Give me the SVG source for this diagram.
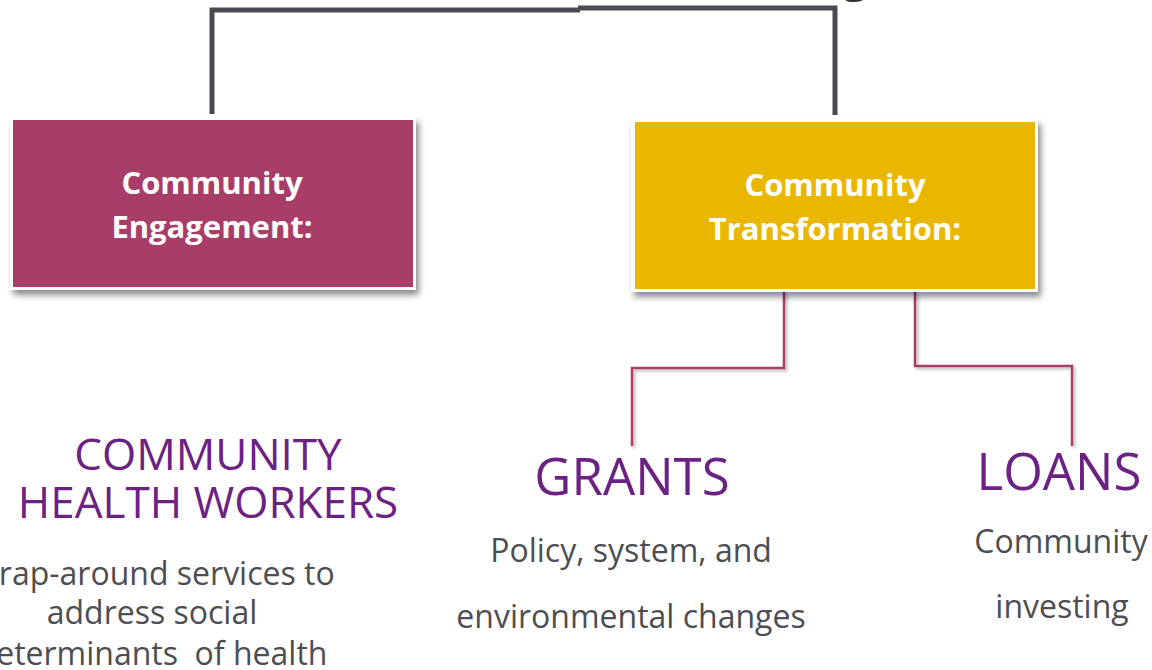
<svg xmlns="http://www.w3.org/2000/svg" width="1152" height="670" viewBox="0 0 1152 670">
<style>
.box-t{font-family:"Open Sans","Liberation Sans",sans-serif;font-weight:bold;font-size:31px;fill:#ffffff;text-anchor:middle}
.head{font-family:"Open Sans","Liberation Sans",sans-serif;font-size:44px;fill:#6b2283;text-anchor:middle}
.head2{font-family:"Open Sans","Liberation Sans",sans-serif;font-size:51px;fill:#6b2283;text-anchor:middle}
.desc{font-family:"Open Sans","Liberation Sans",sans-serif;font-size:32px;fill:#4d4e53;text-anchor:middle;white-space:pre}
.top{fill:none;stroke:#4a4b50;stroke-width:5}
.sub{fill:none;stroke:#a83e68;stroke-width:2.5;filter:url(#lsh)}
</style>
<defs>
<filter id="bsh" x="-10%" y="-10%" width="125%" height="130%">
<feDropShadow dx="3" dy="5" stdDeviation="3" flood-color="#000" flood-opacity="0.45"/>
</filter>
<filter id="lsh" x="-20%" y="-20%" width="140%" height="140%">
<feDropShadow dx="2" dy="2" stdDeviation="1.5" flood-color="#000" flood-opacity="0.3"/>
</filter>
</defs>
<rect width="1152" height="670" fill="#ffffff"/>
<text x="855" y="-9" font-family="Open Sans, Liberation Sans, sans-serif" font-size="48" fill="#333333" text-anchor="middle">g</text>
<g id="connectors">
<path class="top" d="M212 114 V10 H580 M578 8 H835 V115"/>
<path class="sub" d="M217 290 V430"/>
<path class="sub" d="M784 292 V368 H632 V446"/>
<path class="sub" d="M915 292 V366 H1072 V446"/>
</g>
<g id="engagement">
<rect x="10" y="117" width="406" height="173" fill="#ffffff" filter="url(#bsh)"/>
<rect x="13" y="120" width="400" height="167" fill="#a83e68"/>
<text class="box-t" x="212" y="194">Community</text>
<text class="box-t" x="212" y="238">Engagement:</text>
</g>
<g id="transformation">
<rect x="631" y="119" width="407" height="173" fill="#ffffff" filter="url(#bsh)"/>
<rect x="635" y="122" width="400" height="167" fill="#e9b700"/>
<text class="box-t" x="835" y="196">Community</text>
<text class="box-t" x="835" y="240">Transformation:</text>
</g>
<g id="chw">
<text class="head" x="208" y="470">COMMUNITY</text>
<text class="head" x="208" y="518">HEALTH WORKERS</text>
<text class="desc" x="152" y="585">Wrap-around services to</text>
<text class="desc" x="152" y="624">address social</text>
<text class="desc" x="152" y="665" xml:space="preserve">determinants  of health</text>
</g>
<g id="grants">
<text class="head2" x="632" y="495">GRANTS</text>
<text class="desc" x="631" y="562">Policy, system, and</text>
<text class="desc" x="631" y="628">environmental changes</text>
</g>
<g id="loans">
<text class="head2" x="1059" y="490">LOANS</text>
<text class="desc" x="1061" y="553">Community</text>
<text class="desc" x="1062" y="618">investing</text>
</g>
</svg>
